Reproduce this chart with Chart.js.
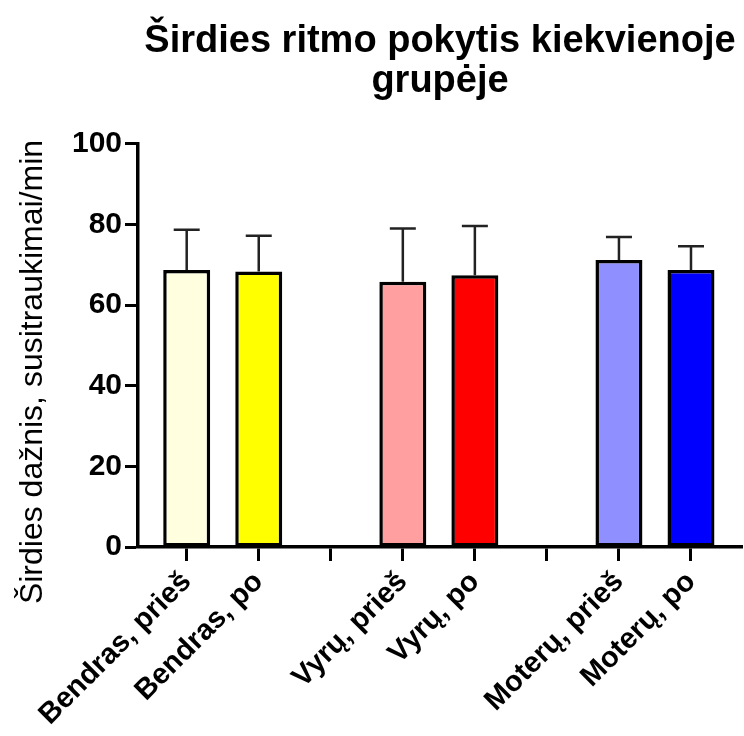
<!DOCTYPE html>
<html>
<head>
<meta charset="utf-8">
<script src="https://cdn.jsdelivr.net/npm/chart.js@4"></script>
<style>
  body { margin: 0; background: #fff; }
</style>
</head>
<body>
<canvas id="grafikas" width="744" height="736"></canvas>
<script>
// Duomenys (tušti elementai - tarpai tarp grupių)
const kategorijos = ['Bendras, prieš', 'Bendras, po', '', 'Vyrų, prieš', 'Vyrų, po', '', 'Moterų, prieš', 'Moterų, po'];
const vidurkiai = [68.7, 68.3, null, 65.8, 67.4, null, 71.2, 68.7];
const nuokrypiai = [10.0, 8.9, null, 13.2, 12.2, null, 5.7, 5.9];
const spalvos = ['#FFFFE0', '#FFFF00', null, '#FF9F9F', '#FF0000', null, '#8F8FFF', '#0000FF'];
const yTikai = [0, 20, 40, 60, 80, 100];

const taskai = [];
const taskuSpalvos = [];
const taskuSD = [];
vidurkiai.forEach((v, i) => {
  if (v === null) return;
  taskai.push({ x: i, y: v });
  taskuSpalvos.push(spalvos[i]);
  taskuSD.push(nuokrypiai[i]);
});

// Paklaidų linijos (tik į viršų)
const paklaidos = {
  id: 'paklaidos',
  afterDatasetsDraw(chart) {
    const ctx = chart.ctx;
    const y = chart.scales.y;
    const meta = chart.getDatasetMeta(0);
    ctx.save();
    ctx.strokeStyle = '#222';
    ctx.lineWidth = 2.5;
    meta.data.forEach((bar, i) => {
      const virsus = y.getPixelForValue(taskai[i].y + taskuSD[i]);
      ctx.beginPath();
      ctx.moveTo(bar.x, bar.y);
      ctx.lineTo(bar.x, virsus);
      ctx.moveTo(bar.x - 13, virsus);
      ctx.lineTo(bar.x + 13, virsus);
      ctx.stroke();
    });
    ctx.restore();
  }
};

// Y ašies pavadinimas
const yPavadinimas = {
  id: 'yPavadinimas',
  afterDraw(chart) {
    const ctx = chart.ctx;
    ctx.save();
    ctx.translate(33, 372);
    ctx.rotate(-Math.PI / 2);
    ctx.font = '32px "Liberation Sans", Arial, sans-serif';
    ctx.fillStyle = '#000';
    ctx.textAlign = 'center';
    ctx.textBaseline = 'middle';
    ctx.fillText('Širdies dažnis, susitraukimai/min', 0, 0);
    ctx.restore();
  }
};

new Chart(document.getElementById('grafikas'), {
  type: 'bar',
  data: {
    datasets: [{
      data: taskai,
      backgroundColor: taskuSpalvos,
      borderColor: '#000',
      borderWidth: 3.5,
      borderSkipped: false,
      barPercentage: 0.652,
      categoryPercentage: 1
    }]
  },
  options: {
    responsive: false,
    animation: false,
    layout: { padding: { left: 0, right: 2, top: 0, bottom: 0 } },
    plugins: {
      legend: { display: false },
      tooltip: { enabled: false },
      title: {
        display: true,
        fullSize: false,
        text: ['Širdies ritmo pokytis kiekvienoje', 'grupėje'],
        color: '#000',
        font: { family: '"Liberation Sans", Arial, sans-serif', size: 38, weight: 'bold', lineHeight: 1.05 },
        padding: { top: 22, bottom: 42 }
      }
    },
    scales: {
      x: {
        type: 'linear',
        offset: false,
        min: -0.676,
        max: 7.708,
        afterBuildTicks: s => { s.ticks = kategorijos.map((_, i) => ({ value: i })); },
        afterFit: s => { s.height = 189; },
        grid: { offset: false, drawOnChartArea: false, tickLength: 14, tickWidth: 3, tickColor: '#000' },
        border: { color: '#000', width: 3.5 },
        ticks: {
          autoSkip: false,
          maxRotation: 45,
          minRotation: 45,
          padding: 4,
          color: '#000',
          font: { family: '"Liberation Sans", Arial, sans-serif', size: 29, weight: 'bold' },
          callback: v => kategorijos[v]
        }
      },
      y: {
        min: 0,
        max: 100,
        afterBuildTicks: s => { s.ticks = yTikai.map(v => ({ value: v })); },
        afterFit: s => { s.width = 138; },
        grid: { drawOnChartArea: false, tickLength: 13, tickWidth: 3, tickColor: '#000' },
        border: { color: '#000', width: 3.5 },
        ticks: {
          padding: 3,
          color: '#000',
          font: { family: '"Liberation Sans", Arial, sans-serif', size: 30, weight: 'bold' }
        }
      }
    }
  },
  plugins: [paklaidos, yPavadinimas]
});
</script>
</body>
</html>
